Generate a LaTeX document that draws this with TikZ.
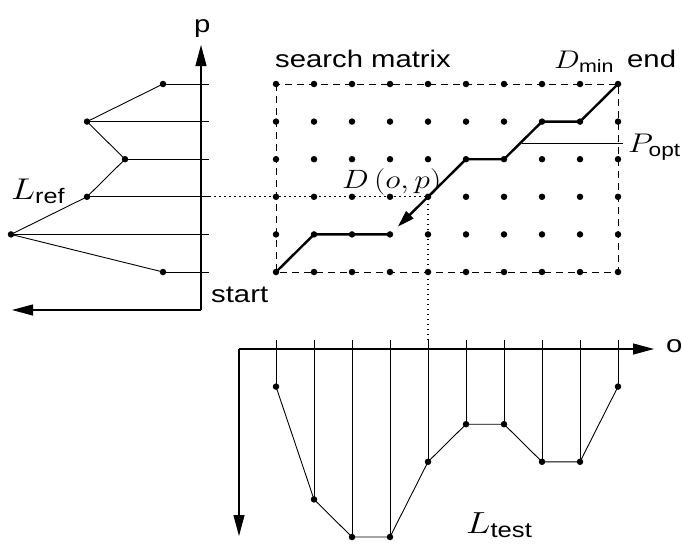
\RequirePackage{fix-cm}
\documentclass[tikz,border=0pt]{standalone}
\usepackage{fontspec}
\setsansfont{Liberation Sans}
\usepackage{amsmath}
\usepackage{graphicx}
\usetikzlibrary{arrows.meta}
\newcommand\wsf[1]{\scalebox{1.22}[1]{\sffamily #1}}
\newcommand\wmath[1]{\scalebox{1.2}[1]{$#1$}}
\newcommand\ssub[1]{\text{\sffamily #1}}
\begin{document}
\begin{tikzpicture}[x=1pt,y=-1pt,
  dot/.style={circle,fill=black,inner sep=0pt,minimum size=6.5pt},
  thinline/.style={line width=0.9pt},
  axisline/.style={line width=1.1pt,-{Triangle[length=21pt,width=11pt]}},
  pathline/.style={line width=2.4pt,line join=round,line cap=round},
  frame/.style={line width=0.9pt,dash pattern=on 7pt off 5pt},
  guide/.style={line width=1.1pt,dash pattern=on 1.5pt off 3.5pt},
  lbl/.style={inner sep=0pt,anchor=base west},
  sans/.style={inner sep=0pt,anchor=base west,font=\fontsize{24}{24}\selectfont}]
\useasboundingbox (0,0) rectangle (682,543);

% ---------- search matrix ----------
\foreach \i in {0,...,9}
  \foreach \j in {0,...,5}
    \coordinate (m\i\j) at ({276+38*\i},{84+37.6*\j});
\draw[frame] (m00) rectangle (m95);
\draw[pathline] (m05) -- (m14) -- (m34);
\draw[pathline,-{Triangle[length=17pt,width=10pt]},shorten >=11pt] (m43) -- (m34);
\draw[pathline] (m43) -- (m52) -- (m62) -- (m71) -- (m81) -- (m90);
\foreach \i in {0,...,9}
  \foreach \j in {0,...,5}
    \node[dot] at (m\i\j) {};

% ---------- reference profile (left) ----------
\coordinate (o1) at (201,310);
\coordinate (ptop) at (201,45);
\coordinate (pleft) at (12,310);
\draw[axisline] (o1) -- (ptop);
\draw[axisline] (o1) -- (pleft);
\foreach \j/\x in {0/163,1/87,2/125,3/87,4/11,5/163}{
  \node[dot] (r\j) at (\x,{84+37.6*\j}) {};
  \coordinate (re\j) at (209,{84+37.6*\j});
  \draw[thinline] (r\j.center) -- (re\j);
}
\draw[thinline] (r0.center) -- (r1.center) -- (r2.center) -- (r3.center) -- (r4.center) -- (r5.center);
\draw[guide] (re3) -- (m43);

% ---------- test profile (bottom) ----------
\coordinate (o2) at (239,349);
\coordinate (oright) at (654,349);
\coordinate (odown) at (239,536);
\draw[axisline] (o2) -- (oright);
\draw[axisline] (o2) -- (odown);
\foreach \i/\k in {0/1,1/4,2/5,3/5,4/3,5/2,6/2,7/3,8/3,9/1}{
  \node[dot] (t\i) at ({276+38*\i},{349+37.6*\k}) {};
  \coordinate (te\i) at ({276+38*\i},340);
  \draw[thinline] (t\i.center) -- (te\i);
}
\draw[thinline] (t0.center) -- (t1.center) -- (t2.center) -- (t3.center) -- (t4.center) -- (t5.center) -- (t6.center) -- (t7.center) -- (t8.center) -- (t9.center);
\draw[guide] (te4) -- (m43);

% ---------- P_opt pointer ----------
\coordinate (popt0) at (522,143);
\coordinate (popt1) at (623,143);
\draw[thinline] (popt0) -- (popt1);

% ---------- labels ----------
\node[sans] (lp) at (194,33) {\wsf{p}};
\node[sans] (lo) at (666,352) {\wsf{o}};
\node[sans] (lsm) at (275,67) {\wsf{search matrix}};
\node[sans] (lend) at (627,67) {\wsf{end}};
\node[sans] (lstart) at (211,302) {\wsf{start}};
\node[lbl,font=\fontsize{25.5}{25.5}\selectfont] (ldmin) at (554,68) {\wmath{D_{\ssub{min}}}};
\node[lbl,font=\fontsize{27}{27}\selectfont] (lpopt) at (628,152) {\wmath{P_{\ssub{opt}}}};
\node[lbl,font=\fontsize{26.5}{26.5}\selectfont] (ldop) at (342,188) {\wmath{D\left(o,p\right)}};
\node[lbl,font=\fontsize{30}{30}\selectfont] (lref) at (11,199) {\wmath{L_{\ssub{ref}}}};
\node[lbl,font=\fontsize{30.5}{30.5}\selectfont] (ltest) at (466,533) {\wmath{L_{\ssub{test}}}};
\end{tikzpicture}
\end{document}
